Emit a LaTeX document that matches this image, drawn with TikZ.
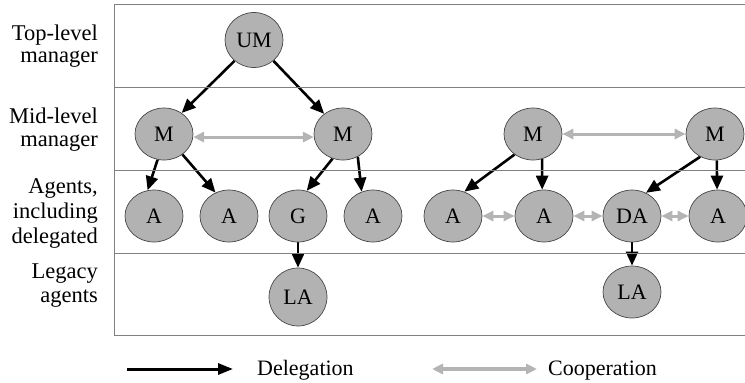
\documentclass[tikz,border=0pt]{standalone}
\usepackage{fontspec}
\setmainfont{Liberation Serif}
\usetikzlibrary{shapes.geometric,arrows.meta,backgrounds}
\definecolor{agentfill}{RGB}{178,178,178}
\definecolor{agentline}{RGB}{70,70,70}
\definecolor{coopgray}{RGB}{180,180,180}
\definecolor{framegray}{RGB}{128,128,128}
\tikzset{
  agent/.style={ellipse, draw=agentline, line width=0.7pt, fill=agentfill,
    minimum width=58pt, minimum height=52pt, inner sep=0pt,
    font=\fontsize{22}{24}\selectfont},
  deleg/.style={line width=2.6pt, black,
    -{Triangle[length=14pt,width=12pt]}},
  coop/.style={line width=3pt, coopgray,
    {Triangle[length=11pt,width=10pt]}-{Triangle[length=11pt,width=10pt]}},
  levellabel/.style={anchor=base east, inner sep=0pt,
    font=\fontsize{22.5}{24}\selectfont},
  legendtext/.style={anchor=base west, inner sep=0pt,
    font=\fontsize{22}{24}\selectfont},
  framerule/.style={framegray, line width=0.9pt}
}
\begin{document}
\begin{tikzpicture}[x=1pt,y=-1pt]
\useasboundingbox (0,0) rectangle (745,383);

% swim-lane frame
\draw[framerule] (745,4) -- (114,4) -- (114,335) -- (745,335);
\draw[framerule] (114,87) -- (745,87);
\draw[framerule] (114,170) -- (745,170);
\draw[framerule] (114,253) -- (745,253);

% level labels
\node[levellabel] (lblTopA) at (98,40) {Top-level};
\node[levellabel] (lblTopB) at (98,62) {manager};
\node[levellabel] (lblMidA) at (98,123) {Mid-level};
\node[levellabel] (lblMidB) at (98,146) {manager};
\node[levellabel] (lblAgA) at (98,193) {Agents,};
\node[levellabel] (lblAgB) at (98,218) {including};
\node[levellabel] (lblAgC) at (98,243) {delegated};
\node[levellabel] (lblLegA) at (98,278) {Legacy};
\node[levellabel] (lblLegB) at (98,302) {agents};

% top-level manager
\node[agent, minimum height=55pt] (UM) at (254,40) {UM};

% mid-level managers
\node[agent] (M1) at (164,134) {M};
\node[agent] (M2) at (343,134) {M};
\node[agent] (M3) at (533,134) {M};
\node[agent] (M4) at (715,134) {M};

% agents
\node[agent] (A1) at (154,216) {A};
\node[agent] (A2) at (229,216) {A};
\node[agent] (G)  at (298,216) {G};
\node[agent] (A4) at (373,216) {A};
\node[agent] (A5) at (453,216) {A};
\node[agent] (A6) at (544,216) {A};
\node[agent] (DA) at (632,216) {DA};
\node[agent] (A8) at (718,216) {A};

% legacy agents
\node[agent, minimum height=58pt] (LA1) at (298,297) {LA};
\node[agent] (LA2) at (632,292) {LA};

\begin{pgfonlayer}{background}
  % delegation
  \draw[deleg] (UM.-133) -- (M1.50);
  \draw[deleg] (UM.-47) -- (M2.133);
  \draw[deleg] (M1.-104) -- (A1.104);
  \draw[deleg] (M1.-48) -- (A2.120);
  \draw[deleg] (M2.-113) -- (G.71);
  \draw[deleg] (M2.-57) -- (A4.115);
  \draw[deleg] (G) -- (LA1);
  \draw[deleg] (M3.-132) -- (A5.65);
  \draw[deleg] (M3.-70) -- (A6.94);
  \draw[deleg] (M4.-123) -- (DA.59);
  \draw[deleg] (M4.-86) -- (A8.92);
  \draw[deleg] (DA) -- (LA2);
  % cooperation
  \draw[coop] (M1.-6) -- (M2.-174);
  \draw[coop] (M3) -- (M4);
  \draw[coop] (A5) -- (A6);
  \draw[coop] (A6) -- (DA);
  \draw[coop] (DA) -- (A8);
\end{pgfonlayer}

% legend
\coordinate (legDa) at (127,369);
\coordinate (legDb) at (233,369);
\coordinate (legCa) at (432,369);
\coordinate (legCb) at (537,369);
\draw[deleg, line width=3pt, -{Triangle[length=15pt,width=11pt]}] (legDa) -- (legDb);
\draw[coop, line width=3.5pt] (legCa) -- (legCb);
\node[legendtext] (legDtext) at (257,375) {Delegation};
\node[legendtext] (legCtext) at (548,375) {Cooperation};
\end{tikzpicture}
\end{document}
